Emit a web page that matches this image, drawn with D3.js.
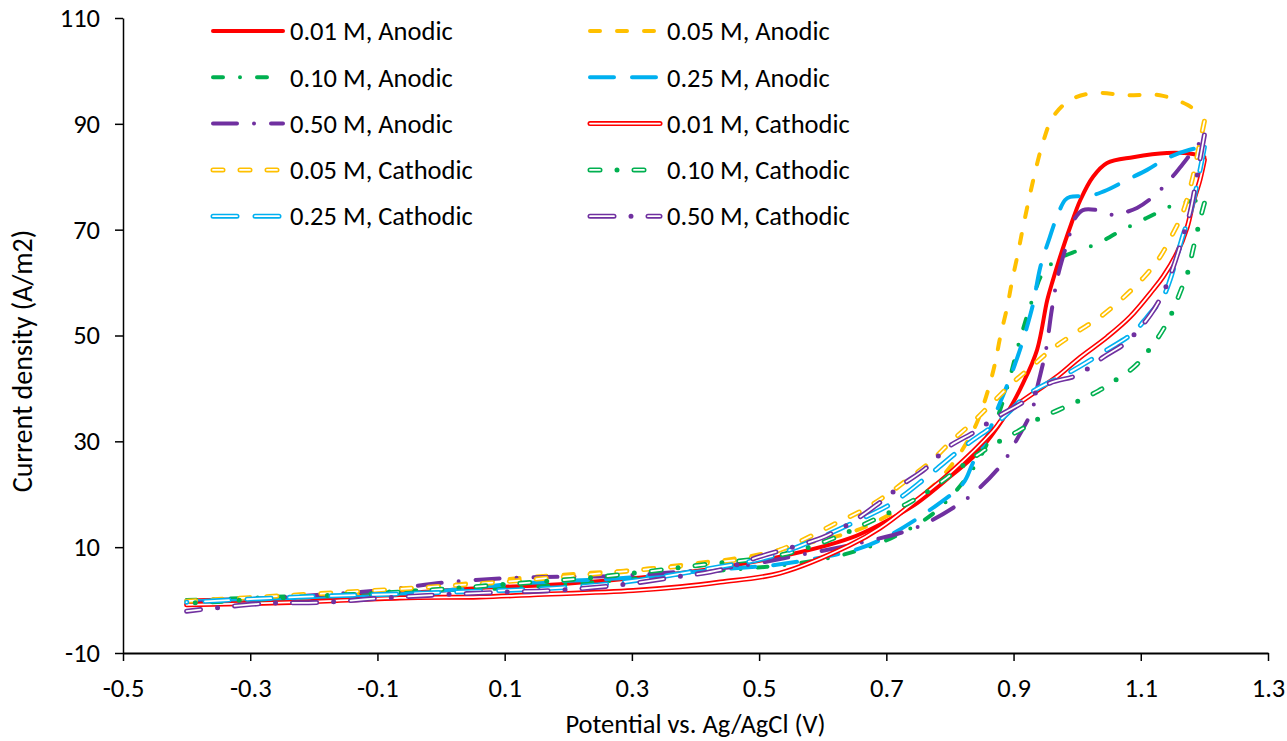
<!DOCTYPE html>
<html>
<head>
<meta charset="utf-8">
<script src="https://cdn.jsdelivr.net/npm/d3@7"></script>
<style>
  body { margin: 0; background: #fff; }
  text { font-family: Carlito, Lato, sans-serif; fill: #000; }
</style>
</head>
<body>
<svg id="chart" width="1287" height="741"></svg>
<script>
// axis ticks
const xTicks = [-0.5, -0.3, -0.1, 0.1, 0.3, 0.5, 0.7, 0.9, 1.1, 1.3]
const yTicks = [-10, 10, 30, 50, 70, 90, 110]

// [potential V, current density A/m2], forward (anodic) scans
const anodic001 = [[-0.40, -0.1], [-0.222, 0.5], [-0.065, 1.3], [0.061, 2.3], [0.187, 3.0], [0.376, 5.1], [0.533, 8.2], [0.643, 11.7], [0.695, 14.6], [0.748, 18.3], [0.800, 23.3], [0.843, 27.8], [0.890, 35.4], [0.915, 41.0], [0.937, 47.3], [0.953, 56.7], [0.962, 60.5], [0.973, 64.8], [0.989, 70.5], [1.005, 75.6], [1.025, 80.0], [1.047, 82.6], [1.088, 83.7], [1.141, 84.5], [1.182, 84.3], [1.200, 83.7]]
const anodic005 = [[-0.40, -0.3], [-0.348, -0.2], [-0.222, 0.6], [-0.065, 1.9], [0.046, 3.2], [0.135, 4.3], [0.229, 5.1], [0.313, 5.8], [0.402, 7.0], [0.481, 8.2], [0.564, 10.4], [0.654, 13.2], [0.695, 15.5], [0.737, 18.3], [0.772, 21.4], [0.805, 25.9], [0.827, 29.9], [0.843, 33.7], [0.860, 39.7], [0.871, 44.8], [0.879, 49.7], [0.890, 55.4], [0.898, 60.5], [0.907, 65.6], [0.915, 70.5], [0.931, 79.4], [0.946, 86.4], [0.962, 91.3], [0.989, 94.5], [1.025, 95.8], [1.078, 95.4], [1.130, 95.4], [1.173, 93.6], [1.200, 91.3]]
const anodic010 = [[-0.40, 0.0], [-0.222, 0.8], [-0.065, 1.7], [0.097, 2.2], [0.245, 3.4], [0.333, 4.4], [0.428, 5.5], [0.512, 6.3], [0.585, 7.4], [0.648, 9.1], [0.711, 11.9], [0.773, 16.3], [0.821, 22.3], [0.852, 28.0], [0.883, 37.4], [0.910, 49.2], [0.931, 57.3], [0.946, 61.8], [0.968, 64.3], [1.000, 66.0], [1.031, 67.3], [1.063, 69.4], [1.094, 71.3], [1.126, 73.2], [1.157, 74.9], [1.200, 75.6]]
const anodic025 = [[-0.40, -0.2], [-0.242, 0.0], [-0.096, 0.8], [-0.044, 1.3], [0.041, 2.2], [0.108, 3.0], [0.176, 3.5], [0.250, 3.9], [0.313, 4.4], [0.387, 5.2], [0.450, 5.9], [0.522, 6.6], [0.596, 8.0], [0.659, 9.8], [0.706, 12.3], [0.780, 18.0], [0.821, 22.1], [0.836, 25.9], [0.858, 30.8], [0.874, 35.9], [0.887, 39.7], [0.899, 43.5], [0.910, 47.3], [0.921, 51.6], [0.931, 56.1], [0.942, 62.9], [0.957, 68.6], [0.968, 72.4], [0.981, 75.6], [0.989, 76.2], [1.020, 76.4], [1.047, 77.5], [1.078, 79.4], [1.110, 81.3], [1.141, 83.5], [1.177, 85.1], [1.200, 85.6]]
const anodic050 = [[-0.40, -0.7], [-0.379, -0.5], [-0.285, 0.2], [-0.190, 1.0], [-0.091, 1.9], [0.003, 3.3], [0.097, 4.1], [0.187, 4.4], [0.281, 4.6], [0.380, 5.4], [0.470, 6.4], [0.564, 8.5], [0.659, 10.8], [0.733, 13.1], [0.764, 14.6], [0.816, 18.3], [0.843, 20.8], [0.883, 25.9], [0.905, 30.3], [0.929, 35.9], [0.938, 40.6], [0.951, 47.3], [0.960, 54.8], [0.970, 61.4], [0.981, 66.2], [0.989, 69.4], [0.997, 72.2], [1.009, 73.7], [1.031, 73.7], [1.056, 72.8], [1.067, 73.0], [1.094, 74.1], [1.119, 76.2], [1.141, 78.8], [1.162, 81.8], [1.181, 84.7], [1.200, 87.5]]

// reverse (cathodic) scans, from 1.2 V back down
const cathodic001 = [[1.200, 83.2], [1.193, 79.4], [1.182, 75.0], [1.173, 70.5], [1.157, 65.6], [1.135, 61.1], [1.119, 58.6], [1.083, 53.5], [1.047, 49.7], [1.005, 45.9], [0.968, 42.2], [0.931, 39.1], [0.890, 35.4], [0.868, 32.0], [0.800, 24.0], [0.748, 18.9], [0.690, 13.6], [0.643, 10.4], [0.533, 5.1], [0.439, 3.4], [0.376, 2.5], [0.302, 1.8], [0.145, 1.0], [0.061, 0.6], [-0.065, 0.4], [-0.222, -0.4], [-0.40, -0.9]]
const cathodic005 = [[1.200, 90.5], [1.190, 84.7], [1.182, 80.0], [1.166, 73.2], [1.151, 69.4], [1.130, 64.8], [1.104, 60.9], [1.072, 57.1], [1.036, 53.5], [1.000, 50.7], [0.962, 47.6], [0.931, 44.4], [0.898, 41.0], [0.866, 37.2], [0.835, 33.5], [0.803, 30.1], [0.769, 26.1], [0.737, 23.1], [0.701, 19.9], [0.663, 17.0], [0.622, 14.6], [0.585, 12.3], [0.544, 10.0], [0.501, 8.3], [0.407, 6.8], [0.313, 5.7], [0.218, 4.7], [0.093, 3.4], [-0.065, 2.1], [-0.222, 1.0], [-0.40, -0.2]]
const cathodic010 = [[1.200, 75.0], [1.196, 73.2], [1.190, 70.3], [1.182, 66.2], [1.174, 62.0], [1.162, 58.2], [1.149, 54.3], [1.133, 50.7], [1.113, 47.3], [1.091, 44.2], [1.063, 41.8], [1.033, 39.5], [1.001, 37.6], [0.970, 35.9], [0.938, 34.2], [0.910, 32.1], [0.879, 30.1], [0.850, 28.0], [0.821, 25.5], [0.795, 23.1], [0.766, 20.6], [0.737, 18.5], [0.674, 14.8], [0.611, 11.4], [0.533, 8.5], [0.407, 6.6], [0.250, 4.4], [0.093, 2.9], [-0.065, 1.5], [-0.222, 0.6], [-0.40, -0.6]]
const cathodic025 = [[1.200, 85.6], [1.190, 79.4], [1.177, 72.8], [1.166, 68.8], [1.146, 60.5], [1.135, 57.3], [1.110, 53.5], [1.088, 50.5], [1.047, 47.3], [0.989, 43.1], [0.926, 39.1], [0.874, 33.5], [0.821, 28.9], [0.764, 23.3], [0.709, 18.3], [0.651, 14.8], [0.588, 11.4], [0.517, 8.2], [0.439, 6.3], [0.250, 2.9], [-0.033, 1.3], [-0.222, 0.6], [-0.40, -0.4]]
const cathodic050 = [[1.200, 87.9], [1.193, 83.2], [1.188, 79.8], [1.177, 73.0], [1.166, 68.6], [1.151, 62.9], [1.135, 58.0], [1.115, 53.9], [1.078, 48.8], [1.041, 45.9], [1.000, 42.5], [0.957, 41.0], [0.915, 37.4], [0.874, 34.6], [0.836, 31.6], [0.797, 28.9], [0.761, 24.8], [0.725, 21.8], [0.685, 18.0], [0.648, 14.9], [0.605, 12.1], [0.564, 10.4], [0.501, 8.2], [0.439, 5.7], [0.371, 4.4], [0.284, 2.9], [0.187, 1.9], [0.097, 1.5], [-0.002, 1.0], [-0.091, 0.4], [-0.179, -0.4], [-0.285, -0.7], [-0.40, -2.1]]

const seriesNames = ['0.01 M, Anodic', '0.05 M, Anodic', '0.10 M, Anodic', '0.25 M, Anodic', '0.50 M, Anodic',
  '0.01 M, Cathodic', '0.05 M, Cathodic', '0.10 M, Cathodic', '0.25 M, Cathodic', '0.50 M, Cathodic']
const seriesValues = [anodic001, anodic005, anodic010, anodic025, anodic050,
  cathodic001, cathodic005, cathodic010, cathodic025, cathodic050]

// styles per concentration
const colors = ['#FF0000', '#FFC000', '#00B050', '#00B0F0', '#7030A0']
const dashes = [null, [10, 17], [10, 17, 0, 17], [24, 18], [24, 17, 0, 17]]

const series = seriesNames.map((name, i) => ({
  name,
  values: seriesValues[i],
  color: colors[i % 5],
  dash: dashes[i % 5],
  double: i >= 5
}))

const fontSize = '26.5px'

const svg = d3.select('#chart')
const x = d3.scaleLinear().domain([-0.5, 1.3]).range([123, 1268])
const y = d3.scaleLinear().domain([-10, 110]).range([653, 18])

// axes (plain hyphen minus like the original)
const xAxis = svg.append('g')
  .attr('transform', `translate(0,${y(-10)})`)
  .call(d3.axisBottom(x).tickValues(xTicks).tickFormat(d => d.toFixed(1)).tickSize(8).tickSizeOuter(0).tickPadding(17))
const yAxis = svg.append('g')
  .attr('transform', `translate(${x(-0.5)},0)`)
  .call(d3.axisLeft(y).tickValues(yTicks).tickFormat(d => String(d)).tickSize(8).tickSizeOuter(0).tickPadding(15))

svg.selectAll('.domain, .tick line').attr('stroke', '#000').attr('stroke-width', 1.5)
svg.selectAll('.tick text').style('font-size', fontSize).attr('font-family', null)
xAxis.select('.domain').attr('stroke-width', 1.8)

svg.append('text')
  .attr('x', (x(-0.5) + x(1.3)) / 2)
  .attr('y', 724)
  .attr('dy', '0.35em')
  .attr('text-anchor', 'middle')
  .style('font-size', fontSize)
  .text('Potential vs. Ag/AgCl (V)')

svg.append('text')
  .attr('transform', 'translate(22,361) rotate(-90)')
  .attr('dy', '0.35em')
  .attr('text-anchor', 'middle')
  .style('font-size', '28px')
  .text('Current density (A/m2)')

// double strokes skip the dot in the white core
const innerDash = d => (d && d.length === 4) ? [d[0], d[1] + d[3]] : d

const strokeLine = (g, s, pathData) => {
  g.append('path')
    .attr('d', pathData)
    .attr('fill', 'none')
    .attr('stroke', s.color)
    .attr('stroke-width', s.double ? 5 : 4)
    .attr('stroke-linecap', 'round')
    .attr('stroke-linejoin', 'round')
    .attr('stroke-dasharray', s.dash ? s.dash.join(' ') : null)
  if (s.double) {
    const inner = innerDash(s.dash)
    g.append('path')
      .attr('d', pathData)
      .attr('fill', 'none')
      .attr('stroke', '#fff')
      .attr('stroke-width', 1.8)
      .attr('stroke-linecap', 'round')
      .attr('stroke-linejoin', 'round')
      .attr('stroke-dasharray', inner ? inner.join(' ') : null)
  }
}

const line = d3.line()
  .x(d => x(d[0]))
  .y(d => y(d[1]))
  .curve(d3.curveCatmullRom.alpha(0.5))

const plot = svg.append('g').attr('class', 'series')
series.forEach(s => strokeLine(plot.append('g'), s, line(s.values)))

// legend, two columns
const legend = svg.append('g').attr('class', 'legend')
const colX = [213, 590]
series.forEach((s, i) => {
  const lx = colX[i % 2]
  const ly = 31 + Math.floor(i / 2) * 46.3
  const g = legend.append('g')
  strokeLine(g, s, `M${lx},${ly}H${lx + 70}`)
  g.append('text')
    .attr('x', lx + 77)
    .attr('y', ly)
    .attr('dy', '0.35em')
    .style('font-size', fontSize)
    .text(s.name)
})
</script>
</body>
</html>
